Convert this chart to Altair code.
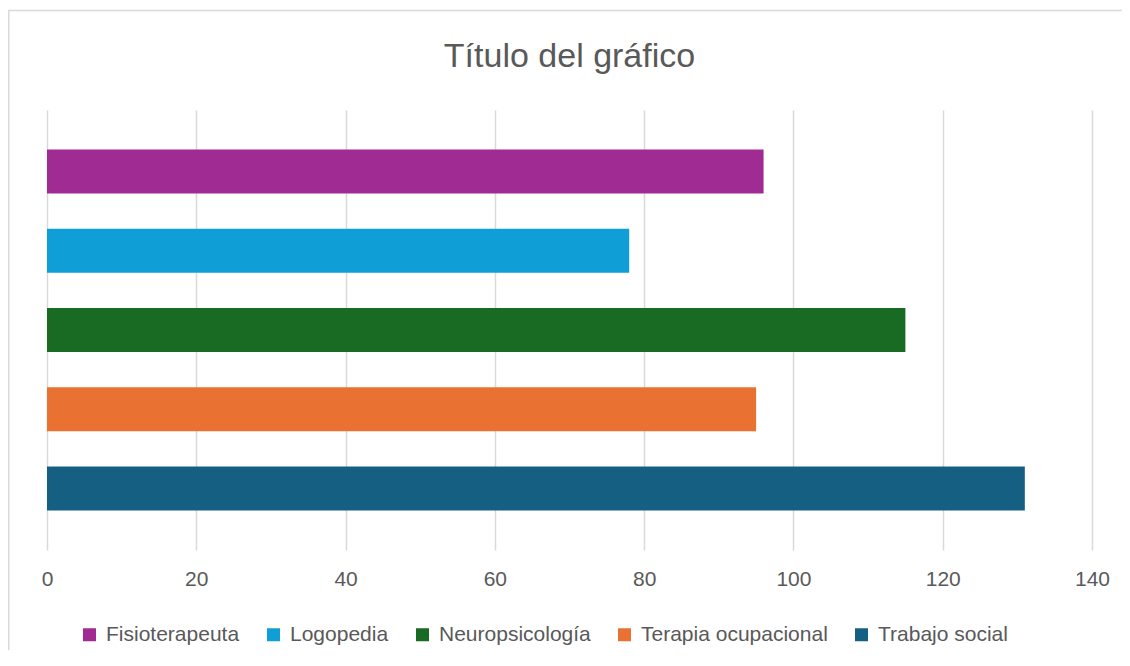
import altair as alt
import pandas as pd

categories = ["Fisioterapeuta", "Logopedia", "Neuropsicología", "Terapia ocupacional", "Trabajo social"]
values = [96, 78, 115, 95, 131]
colors = ["#A02B93", "#0F9ED5", "#196B24", "#E97132", "#156082"]
x_ticks = [0, 20, 40, 60, 80, 100, 120, 140]
title_text = "Título del gráfico"

df = pd.DataFrame({"Categoría": categories, "Valor": values})

FONT = "Liberation Sans"
TEXT = "#595959"
GRID = "#D9D9D9"

bars = alt.Chart(df).mark_bar().encode(
    y=alt.Y("Categoría:N", sort=categories, axis=None,
            scale=alt.Scale(paddingInner=0.445, paddingOuter=0.5)),
    x=alt.X("Valor:Q", scale=alt.Scale(domain=[0, 140], nice=False),
            axis=alt.Axis(values=x_ticks, title=None, grid=True, gridColor=GRID, gridWidth=1.5,
                          domain=False, ticks=False, labelFontSize=21, labelColor=TEXT,
                          labelFont=FONT, labelPadding=18, labelFlush=False)),
    color=alt.Color("Categoría:N", sort=categories,
                    scale=alt.Scale(domain=categories, range=colors),
                    legend=alt.Legend(title=None, orient="none", legendX=32, legendY=514,
                                      direction="horizontal", symbolType="square", symbolSize=169,
                                      symbolStrokeWidth=0, labelFontSize=21, labelFont=FONT,
                                      labelColor=TEXT, labelOffset=6, columnPadding=23, padding=0,
                                      labelLimit=400)),
)

frame_df = pd.DataFrame({"k": [0]})
frame_top = alt.Chart(frame_df).mark_rule(color=GRID, strokeWidth=1.5).encode(
    x=alt.value(-39), x2=alt.value(1080), y=alt.value(-99.5))
frame_left = alt.Chart(frame_df).mark_rule(color=GRID, strokeWidth=1.5).encode(
    x=alt.value(-38.2), y=alt.value(-99.5), y2=alt.value(545))

chart = alt.layer(bars, frame_top, frame_left).properties(
    width=1045, height=440,
    padding={"left": 39, "top": 102, "right": 30, "bottom": 100},
    autosize=alt.AutoSizeParams(type="none"),
    title=alt.TitleParams(title_text, fontSize=34, font=FONT, color=TEXT, fontWeight="normal",
                          anchor="middle", baseline="alphabetic", offset=-91),
).configure_view(stroke=None)

chart.save("out.html", embed_options={"renderer": "svg", "actions": False})
